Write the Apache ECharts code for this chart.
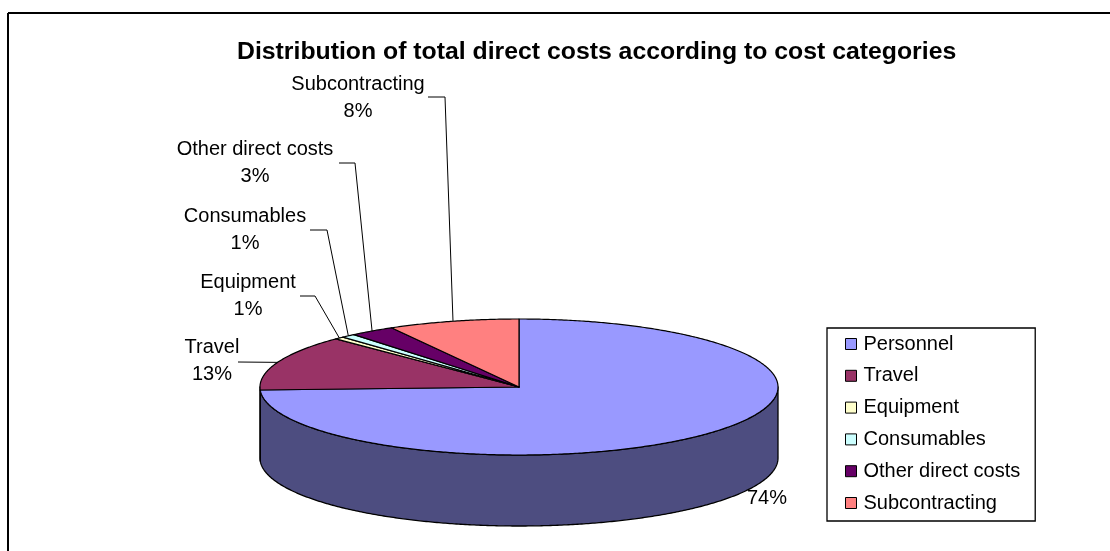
<!DOCTYPE html>
<html><head><meta charset="utf-8">
<script src="https://cdn.jsdelivr.net/npm/echarts@6/dist/echarts.min.js"></script>
<style>html,body{margin:0;padding:0;background:#fff}#c{width:1110px;height:551px}</style>
</head><body><div id="c"></div>
<script>
// ---- data ----
const CATEGORIES = ['Personnel', 'Travel', 'Equipment', 'Consumables', 'Other direct costs', 'Subcontracting'];
const VALUES = [74.3, 13.2, 0.6, 0.9, 2.8, 8.2];
const TITLE = 'Distribution of total direct costs according to cost categories';

// ---- styles / layout ----
const TOP_COLORS = ['#9999FF', '#993366', '#FFFFCC', '#CCFFFF', '#660066', '#FF8080'];
const SIDE_COLORS = ['#4D4D80', '#4D1A33', '#80806A', '#6A8080', '#330033', '#804040'];
const FONT = 'Liberation Sans, Arial, sans-serif';
const CX = 519, CY = 387, RX = 259, RY = 68, DEPTH = 71;
const LABEL_LAYOUT = [
  { x: 767, y: 498, showName: false, line: null },
  { x: 212, y: 361, showName: true, line: [[238, 362]] },
  { x: 248, y: 296, showName: true, line: [[300, 296], [315, 296]] },
  { x: 245, y: 230, showName: true, line: [[310, 230], [327, 230]] },
  { x: 255, y: 163, showName: true, line: [[339, 163], [355, 163]] },
  { x: 358, y: 98, showName: true, line: [[428, 97], [445, 97]] }
];

const TOTAL = VALUES.reduce((a, b) => a + b, 0);
const ang = c => c / TOTAL * Math.PI * 2;
const pt = (a, dy) => [CX + RX * Math.sin(a), CY - RY * Math.cos(a) + (dy || 0)];
function arc(a0, a1, dy) {
  const n = Math.max(2, Math.ceil(Math.abs(a1 - a0) / (Math.PI / 360)));
  const pts = [];
  for (let k = 0; k <= n; k++) pts.push(pt(a0 + (a1 - a0) * k / n, dy));
  return pts;
}

function makeRender(i) {
  return function (params, api) {
    const v = api.value(0);
    let start = 0;
    for (let j = 0; j < i; j++) start += VALUES[j];
    const a0 = ang(start), a1 = ang(start + v);
    const children = [];
    const v0 = Math.max(a0, Math.PI / 2), v1 = Math.min(a1, Math.PI * 1.5);
    if (v1 > v0) {
      children.push({
        type: 'polygon', z2: 1,
        shape: { points: arc(v0, v1, 0).concat(arc(v1, v0, DEPTH)) },
        style: { fill: SIDE_COLORS[i], stroke: '#000', lineWidth: 1.3, lineJoin: 'round' }
      });
    }
    children.push({
      type: 'polygon', z2: 10,
      shape: { points: [[CX, CY]].concat(arc(a0, a1, 0)) },
      style: { fill: api.visual('color'), stroke: '#000', lineWidth: 1.2, lineJoin: 'round' }
    });
    const L = LABEL_LAYOUT[i];
    const pct = Math.round(v / TOTAL * 100) + '%';
    children.push({
      type: 'text', z2: 30, x: L.x, y: L.y, silent: true,
      style: {
        text: L.showName ? CATEGORIES[i] + '\n' + pct : pct,
        fill: '#000', fontSize: 20, fontFamily: FONT, lineHeight: 27,
        align: 'center', verticalAlign: 'middle'
      }
    });
    if (L.line) {
      const anchor = pt((a0 + a1) / 2, 0);
      children.push({
        type: 'polyline', z2: 25, silent: true,
        shape: { points: L.line.concat([anchor]) },
        style: { stroke: '#000', lineWidth: 1, fill: null }
      });
    }
    return { type: 'group', children };
  };
}

const series = CATEGORIES.map((name, i) => ({
  type: 'custom', name, coordinateSystem: 'none',
  itemStyle: { color: TOP_COLORS[i] },
  data: [VALUES[i]],
  renderItem: makeRender(i),
  silent: true
}));

const chart = echarts.init(document.getElementById('c'), null, { renderer: 'canvas' });
chart.setOption({
  animation: false,
  backgroundColor: '#fff',
  title: {
    text: TITLE, left: 237, top: 40, padding: 0,
    textStyle: { fontSize: 24.8, fontWeight: 'bold', fontFamily: FONT, color: '#000' }
  },
  legend: {
    data: CATEGORIES, orient: 'vertical', left: 827, top: 328,
    padding: [6, 15, 8, 18], itemGap: 11.8, itemWidth: 11, itemHeight: 11,
    icon: 'rect', borderColor: '#000', borderWidth: 1.3,
    itemStyle: { borderColor: '#000', borderWidth: 1 },
    textStyle: { fontSize: 20, fontFamily: FONT, color: '#000', lineHeight: 20, padding: [0, 0, 0, 2] },
    selectedMode: false
  },
  graphic: [
    { type: 'line', shape: { x1: 8, y1: 13, x2: 1110, y2: 13 }, style: { stroke: '#000', lineWidth: 2 } },
    { type: 'line', shape: { x1: 8, y1: 13, x2: 8, y2: 551 }, style: { stroke: '#000', lineWidth: 2 } }
  ],
  series
});
</script>
</body></html>
